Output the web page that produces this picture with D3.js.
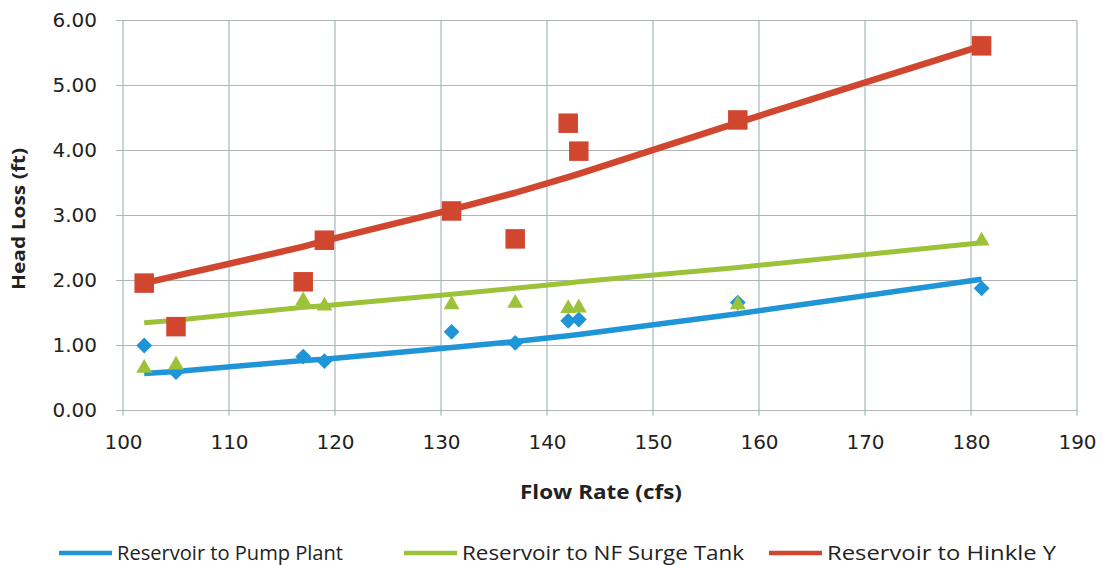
<!DOCTYPE html>
<html>
<head>
<meta charset="utf-8">
<script src="https://cdn.jsdelivr.net/npm/d3@7"></script>
<style>
  html, body { margin: 0; padding: 0; background: #fff; }
  svg { display: block; }
  text { font-family: "Open Sans", "DejaVu Sans", sans-serif; fill: #222; }
</style>
</head>
<body>
<svg id="chart" width="1102" height="565"></svg>
<script>
// Measured flow rates (cfs)
const flowRates = [102, 105, 117, 119, 131, 137, 142, 143, 158, 181];

// Measured head loss (ft) for each reach
const pumpPlantLoss = [1.00, 0.59, 0.83, 0.76, 1.21, 1.04, 1.38, 1.40, 1.66, 1.88];
const surgeTankLoss = [0.65, 0.70, 1.69, 1.61, 1.63, 1.65, 1.57, 1.58, 1.63, 2.61];
const hinkleYLoss   = [1.96, 1.29, 1.98, 2.62, 3.07, 2.64, 4.42, 3.99, 4.47, 5.61];

// Trend line head loss (ft) at the same flow rates
const pumpPlantTrend = [0.57, 0.60, 0.77, 0.79, 0.97, 1.06, 1.15, 1.17, 1.49, 2.02];
const surgeTankTrend = [1.35, 1.39, 1.59, 1.61, 1.79, 1.88, 1.96, 1.98, 2.20, 2.58];
const hinkleYTrend   = [1.96, 2.07, 2.52, 2.61, 3.09, 3.35, 3.59, 3.64, 4.43, 5.61];

// Axis ticks
const xTicks = [100, 110, 120, 130, 140, 150, 160, 170, 180, 190];
const yTicks = [0, 1, 2, 3, 4, 5, 6];

const seriesNames = ["Reservoir to Pump Plant", "Reservoir to NF Surge Tank", "Reservoir to Hinkle Y"];

const colors = { pump: "#1f95d8", surge: "#9cc23a", hinkle: "#d0462f" };

const svg = d3.select("#chart");
const margin = { left: 123, right: 1077, top: 20.5, bottom: 410.5 };

const x = d3.scaleLinear().domain([100, 190]).range([margin.left, margin.right]);
const y = d3.scaleLinear().domain([0, 6]).range([margin.bottom, margin.top]);

// Grid
const grid = svg.append("g").attr("class", "grid");
grid.selectAll("line.h").data(yTicks).join("line")
  .attr("x1", margin.left - 7).attr("x2", margin.right)
  .attr("y1", d => y(d)).attr("y2", d => y(d))
  .attr("stroke", "#b0b5b6").attr("stroke-width", 1.1);
grid.selectAll("line.v").data(xTicks).join("line")
  .attr("x1", d => x(d)).attr("x2", d => x(d))
  .attr("y1", margin.top).attr("y2", margin.bottom + 5)
  .attr("stroke", "#9fb0b4").attr("stroke-width", 1.1);

// Axes
const tickFont = "'DejaVu Sans', sans-serif";
const yAxis = svg.append("g")
  .attr("transform", `translate(${margin.left},0)`)
  .call(d3.axisLeft(y).tickValues(yTicks).tickFormat(d3.format(".2f")).tickSize(0).tickPadding(26));
const xAxis = svg.append("g")
  .attr("transform", `translate(0,${margin.bottom})`)
  .call(d3.axisBottom(x).tickValues(xTicks).tickFormat(d3.format("d")).tickSize(0).tickPadding(24));
[yAxis, xAxis].forEach(a => {
  a.select(".domain").remove();
  a.selectAll("text").style("font-size", "20px").style("font-family", tickFont).attr("fill", "#2a2a2a");
});

// Axis titles
svg.append("text")
  .attr("x", 520).attr("y", 499)
  .attr("textLength", 162).attr("lengthAdjust", "spacingAndGlyphs")
  .style("font-size", "19px").style("font-weight", "bold")
  .text("Flow  Rate (cfs)");
svg.append("text")
  .attr("transform", "translate(25,290) rotate(-90)")
  .attr("textLength", 142).attr("lengthAdjust", "spacingAndGlyphs")
  .style("font-size", "18px").style("font-weight", "bold")
  .text("Head Loss (ft)");

// Trend lines
const line = d3.line().x(d => x(d[0])).y(d => y(d[1]));
const trends = [
  { values: pumpPlantTrend, color: colors.pump, width: 5.5 },
  { values: surgeTankTrend, color: colors.surge, width: 5 },
  { values: hinkleYTrend, color: colors.hinkle, width: 6.5 }
];
svg.append("g").selectAll("path").data(trends).join("path")
  .attr("d", d => line(flowRates.map((f, i) => [f, d.values[i]])))
  .attr("fill", "none")
  .attr("stroke", d => d.color)
  .attr("stroke-width", d => d.width)
  .attr("stroke-linejoin", "round");

// Markers
const markers = [
  { values: pumpPlantLoss, color: colors.pump, symbol: d3.symbolDiamond2, size: 160 },
  { values: surgeTankLoss, color: colors.surge, symbol: d3.symbolTriangle, size: 110 },
  { values: hinkleYLoss, color: colors.hinkle, symbol: d3.symbolSquare, size: 380 }
];
markers.forEach(m => {
  svg.append("g").selectAll("path").data(flowRates.map((f, i) => [f, m.values[i]])).join("path")
    .attr("transform", d => `translate(${x(d[0])},${y(d[1])})`)
    .attr("d", d3.symbol().type(m.symbol).size(m.size))
    .attr("fill", m.color);
});

// Legend
const legendItems = [
  { name: seriesNames[0], color: colors.pump, x: 59, w: 226 },
  { name: seriesNames[1], color: colors.surge, x: 404, w: 282 },
  { name: seriesNames[2], color: colors.hinkle, x: 769, w: 229 }
];
const legend = svg.append("g").selectAll("g").data(legendItems).join("g")
  .attr("transform", d => `translate(${d.x},553)`);
legend.append("line")
  .attr("x1", 0).attr("x2", 53).attr("y1", 0).attr("y2", 0)
  .attr("stroke", d => d.color).attr("stroke-width", 4.5);
legend.append("text")
  .attr("x", 58).attr("y", 7)
  .attr("textLength", d => d.w).attr("lengthAdjust", "spacingAndGlyphs")
  .style("font-size", "20px")
  .text(d => d.name);
</script>
</body>
</html>
